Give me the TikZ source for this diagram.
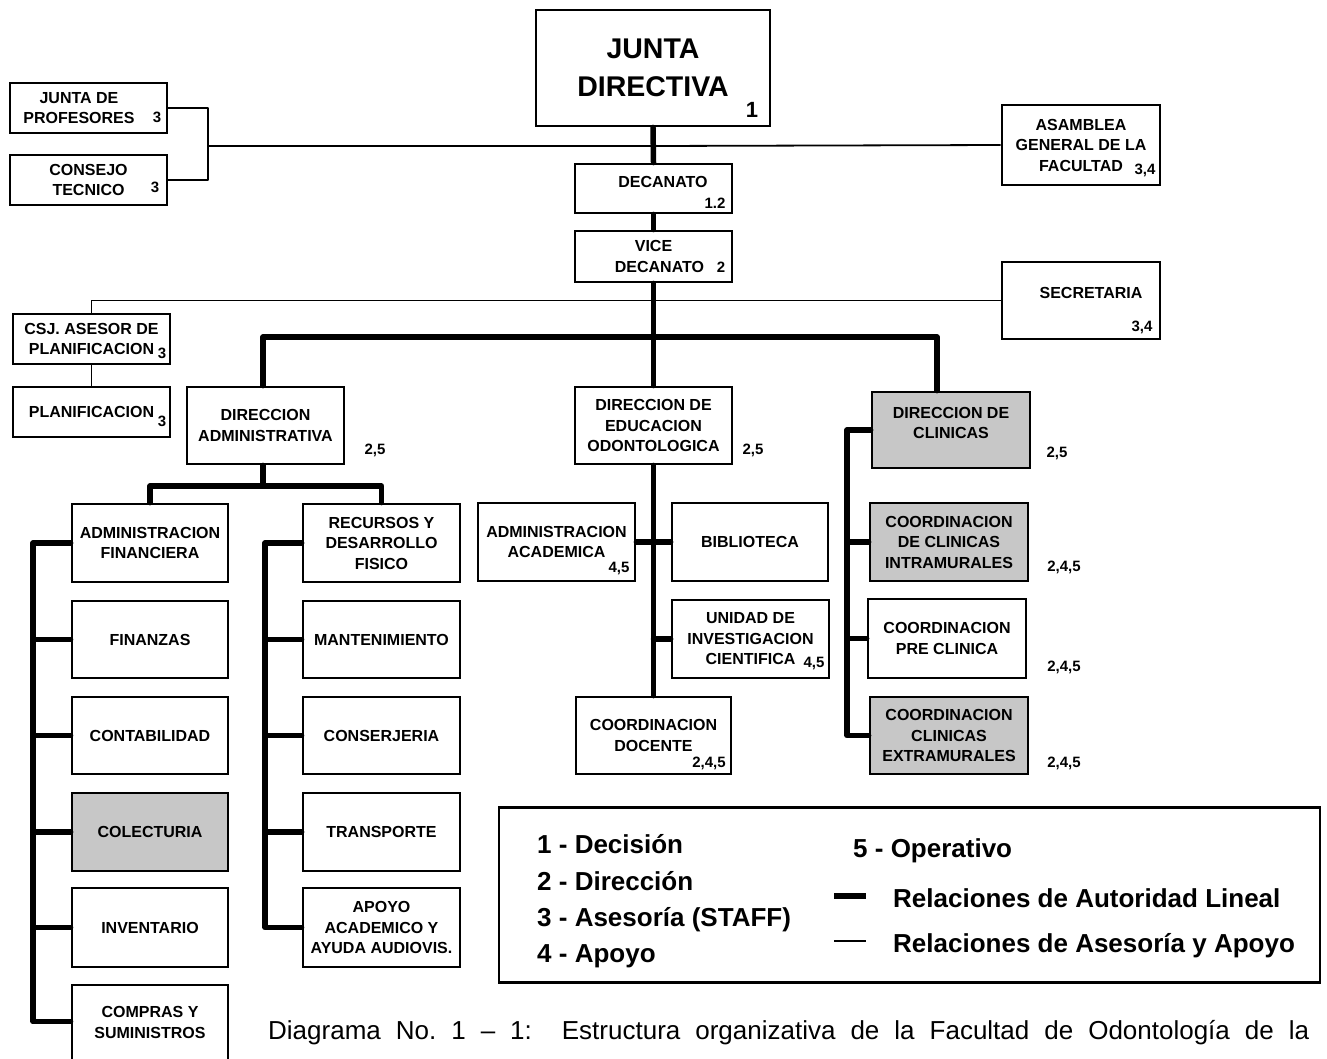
\documentclass[tikz,border=0pt]{standalone}
\usepackage{fontspec}
\setmainfont{Liberation Sans}
\usetikzlibrary{calc}
\newcommand{\orgbox}[7][]{%
  \node[box,#1,minimum width={(#5-#3)*1pt},minimum height={(#6-#4)*1pt}] (#2) at ({(#3+#5)/2},{(#4+#6)/2}) {#7};}
\tikzset{
  box/.style={draw, line width=2.8pt, inner sep=0pt, align=center, fill=white,
    font=\fontsize{16}{20.5}\selectfont\bfseries},
  shade/.style={fill=black!22},
  lin/.style={line width=5.5pt, line cap=round, line join=round},
  adv/.style={line width=1.8pt, line join=round},
  num/.style={inner sep=0pt, font=\fontsize{15}{18}\selectfont\bfseries},
  legt/.style={inner sep=0pt, anchor=base west, font=\fontsize{26}{30}\selectfont\bfseries},
}
\begin{document}
\begin{tikzpicture}[x=1pt,y=-1pt]
\fill[white] (0,0) rectangle (1327,1058);
\useasboundingbox (0,0) rectangle (1327,1058);

% coordinates of bus lines
\coordinate (br) at (208,146);
\coordinate (barL) at (263,337);
\coordinate (barR) at (937,337);
\coordinate (lj) at (263,486);
\coordinate (lv) at (33,0);
\coordinate (rv) at (265,0);
\coordinate (cv) at (847,0);

% ---------- boxes ----------
\orgbox[font=\fontsize{28.5}{38}\selectfont\bfseries]{jd}{536}{10}{770}{126}{JUNTA\\DIRECTIVA}
\orgbox{jp}{10}{83}{167}{133}{JUNTA DE\hspace*{19pt}\\PROFESORES\hspace*{19pt}}
\orgbox{ct}{10}{155}{167}{205}{CONSEJO\\TECNICO}
\orgbox{as}{1002}{105}{1160}{185}{ASAMBLEA\\GENERAL DE LA\\FACULTAD}
\orgbox{dec}{575}{164}{732}{213}{\hspace*{19pt}DECANATO\\[-8pt]}
\orgbox{vd}{575}{231}{732}{282}{VICE\\\hspace*{12pt}DECANATO}
\orgbox{sec}{1002}{262}{1160}{339}{\hspace*{20pt}SECRETARIA\\[-6pt]}
\orgbox{csj}{13}{314}{170}{364}{CSJ. ASESOR DE\\PLANIFICACION}
\orgbox{plan}{13}{387}{170}{437}{PLANIFICACION}
\orgbox{da}{187}{387}{344}{464}{DIRECCION\\ADMINISTRATIVA}
\orgbox{de}{575}{387}{732}{464}{DIRECCION DE\\EDUCACION\\ODONTOLOGICA}
\orgbox[shade]{dc}{872}{392}{1030}{468}{DIRECCION DE\\CLINICAS\\[-6pt]}
\orgbox{af}{72}{504}{228}{582}{ADMINISTRACION\\FINANCIERA}
\orgbox{fin}{72}{601}{228}{678}{FINANZAS}
\orgbox{con}{72}{697}{228}{774}{CONTABILIDAD}
\orgbox[shade]{col}{72}{793}{228}{871}{COLECTURIA}
\orgbox{inv}{72}{888}{228}{967}{INVENTARIO}
\orgbox{com}{72}{985}{228}{1060}{COMPRAS Y\\SUMINISTROS}
\orgbox{rdf}{303}{504}{460}{582}{RECURSOS Y\\DESARROLLO\\FISICO}
\orgbox{man}{303}{601}{460}{678}{MANTENIMIENTO}
\orgbox{cons}{303}{697}{460}{774}{CONSERJERIA}
\orgbox{tra}{303}{793}{460}{871}{TRANSPORTE}
\orgbox{apo}{303}{888}{460}{967}{APOYO\\ACADEMICO Y\\AYUDA AUDIOVIS.}
\orgbox{aa}{478}{503}{635}{581}{ADMINISTRACION\\ACADEMICA}
\orgbox{bib}{672}{503}{828}{581}{BIBLIOTECA}
\orgbox{uic}{672}{600}{829}{678}{UNIDAD DE\\INVESTIGACION\\CIENTIFICA}
\orgbox{cd}{576}{697}{731}{774}{COORDINACION\\DOCENTE}
\orgbox[shade]{ci}{870}{503}{1028}{581}{COORDINACION\\DE CLINICAS\\INTRAMURALES}
\orgbox{cp}{868}{599}{1026}{678}{COORDINACION\\PRE CLINICA}
\orgbox[shade]{ce}{870}{697}{1028}{774}{COORDINACION\\CLINICAS\\EXTRAMURALES}

% ---------- numbers ----------
\node[num, font=\fontsize{22}{22}\selectfont\bfseries] (n1) at (752,110) {1};
\node[num] (njp) at (157,117) {3};
\node[num] (nct) at (155,187) {3};
\node[num] (nas) at (1145,170) {3,4};
\node[num] (ndec) at (715,203) {1.2};
\node[num] (nvd) at (721,267) {2};
\node[num] (nsec) at (1142,327) {3,4};
\node[num] (ncsj) at (162,353) {3};
\node[num] (nplan) at (162,421) {3};
\node[num] (nda) at (375,450) {2,5};
\node[num] (nde) at (753,450) {2,5};
\node[num] (ndc) at (1057,453) {2,5};
\node[num] (naa) at (619,568) {4,5};
\node[num] (nuic) at (814,663) {4,5};
\node[num] (ncd) at (709,763) {2,4,5};
\node[num] (nci) at (1064,567) {2,4,5};
\node[num] (ncp) at (1064,667) {2,4,5};
\node[num] (nce) at (1064,763) {2,4,5};

% ---------- thin (staff) connectors ----------
\draw[adv] (jp.east) -| (br) |- (ct.east);
\draw[adv] (br) -- (jd.south |- br) -- (as.west);
\draw[adv] (csj.north) |- (sec.west);
\draw[adv] (csj.south) -- (plan.north);

% ---------- thick (line) connectors ----------
\draw[lin] (jd.south) -- (dec.north);
\draw[lin] (dec.south) -- (vd.north);
\draw[lin] (vd.south) -- (de.north);
\draw[lin] (da.north -| barL) |- (barR) -- (barR |- dc.north);
\draw[lin] (da.south -| lj) -- (lj);
\draw[lin] (af.north) |- (lj) -| (rdf.north);
\path (com.north west) ++(0,38) coordinate (comb);
\draw[lin] (af.west) -- (af.west -| lv) |- (comb);
\foreach \n in {fin,con,col,inv} \draw[lin] (\n.west) -- (\n.west -| lv);
\draw[lin] (rdf.west) -- (rdf.west -| rv) |- (apo.west);
\foreach \n in {man,cons,tra} \draw[lin] (\n.west) -- (\n.west -| rv);
\draw[lin] (de.south) -- (cd.north);
\draw[lin] (aa.east) -- (bib.west);
\draw[lin] (uic.west) -- (uic.west -| de.south);
\draw[lin] (dc.west) -- (dc.west -| cv) |- (ce.west);
\foreach \n in {ci,cp} \draw[lin] (\n.west) -- (\n.west -| cv);

% ---------- legend ----------
\node[draw, line width=2.8pt, minimum width=821pt, minimum height=175pt, inner sep=0pt] (leg) at (909.5,895) {};
\node[legt] (l1) at (537,853) {1 - Decisión};
\node[legt] (l2) at (537,890) {2 - Dirección};
\node[legt] (l3) at (537,926) {3 - Asesoría (STAFF)};
\node[legt] (l4) at (537,962) {4 - Apoyo};
\node[legt] (l5) at (853,857) {5 - Operativo};
\coordinate (la1) at (834,896);
\coordinate (la2) at (866,896);
\draw[lin, line cap=butt] (la1) -- (la2);
\node[legt] (l6) at (893,907) {Relaciones de Autoridad Lineal};
\coordinate (lb1) at (834,941);
\coordinate (lb2) at (866,941);
\draw[adv] (lb1) -- (lb2);
\node[legt] (l7) at (893,952) {Relaciones de Asesoría y Apoyo};

% ---------- caption ----------
\node[anchor=base west, inner sep=0pt, font=\fontsize{26}{30}\selectfont] (cap) at (268,1039)
  {\makebox[1041pt][s]{Diagrama No.\ 1 \textendash{} 1:\ \ Estructura organizativa de la Facultad de Odontología de la}};
\end{tikzpicture}
\end{document}
